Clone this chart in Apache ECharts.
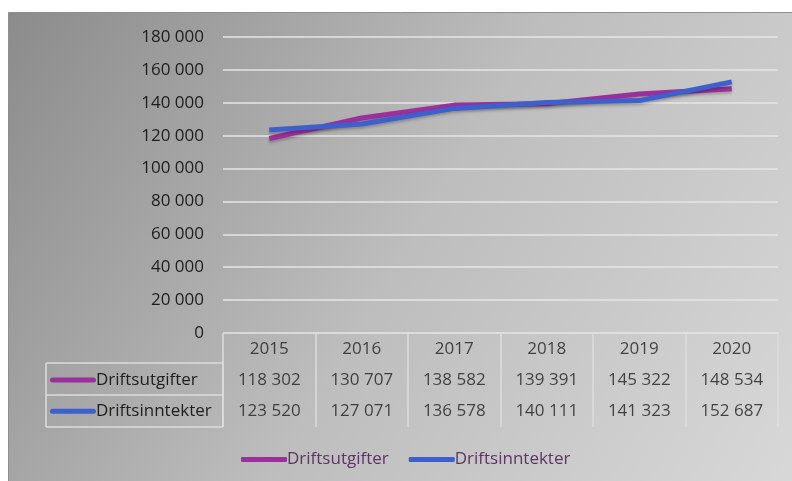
<!DOCTYPE html>
<html>
<head>
<meta charset="utf-8">
<script src="https://cdn.jsdelivr.net/npm/echarts@6/dist/echarts.min.js"></script>
<style>
html,body{margin:0;padding:0;background:#fff;}
#c{width:792px;height:481px;}
</style>
</head>
<body>
<div id="c"></div>
<script>
var years = ['2015','2016','2017','2018','2019','2020'];
var seriesNames = ['Driftsutgifter','Driftsinntekter'];
var driftsutgifter = [118302,130707,138582,139391,145322,148534];
var driftsinntekter = [123520,127071,136578,140111,141323,152687];
var yTicks = {min:0, max:180000, interval:20000};

var PURPLE = '#9b2f9c';
var BLUE = '#3d60cc';
var FONT = 'Open Sans';
var FS = 17;

function fmt(v){ return String(v).replace(/\B(?=(\d{3})+(?!\d))/g,' '); }

var tableData = [];
years.forEach(function(y,i){
  tableData.push([i,0,y]);
  tableData.push([i,1,fmt(driftsutgifter[i])]);
  tableData.push([i,2,fmt(driftsinntekter[i])]);
});

var chart = echarts.init(document.getElementById('c'), null, {renderer:'canvas'});
var gridLineColor = '#e6e6e6';
var tableLine = '#dcdcdc';

chart.setOption({
  animation:false,
  backgroundColor:'#ffffff',
  textStyle:{fontFamily:FONT},
  graphic:[{
    type:'rect', z:-10, silent:true,
    shape:{x:8.5,y:12.5,width:790,height:475},
    style:{
      fill:new echarts.graphic.LinearGradient(0,0,1,1,[
        {offset:0,color:'#8b8b8b'},
        {offset:0.5,color:'#bdbdbd'},
        {offset:1,color:'#d8d8d8'}
      ]),
      stroke:'#8f8f8f', lineWidth:1
    }
  }],
  grid:[
    {left:223,right:14,top:37,bottom:148},
    {left:223,right:14,top:333,bottom:54},
    {left:46,width:177,top:363,bottom:54}
  ],
  xAxis:[
    {gridIndex:0,type:'category',data:years,boundaryGap:true,
     axisLine:{show:false},axisTick:{show:false},axisLabel:{show:false},splitLine:{show:false}},
    {gridIndex:1,type:'category',data:years,boundaryGap:true,
     axisLine:{show:false},axisTick:{show:false},axisLabel:{show:false},
     splitLine:{show:true,lineStyle:{color:tableLine,width:1.5}}},
    {gridIndex:2,type:'category',data:[''],boundaryGap:true,
     axisLine:{show:false},axisTick:{show:false},axisLabel:{show:false},
     splitLine:{show:true,lineStyle:{color:tableLine,width:1.5}}}
  ],
  yAxis:[
    {gridIndex:0,type:'value',min:yTicks.min,max:yTicks.max,interval:yTicks.interval,
     axisLine:{show:false},axisTick:{show:false},
     axisLabel:{margin:19,color:'#1e1e1e',fontSize:FS,fontFamily:FONT,formatter:fmt},
     splitLine:{show:true,lineStyle:{color:gridLineColor,width:1.5}}},
    {gridIndex:1,type:'category',data:['',seriesNames[0],seriesNames[1]],inverse:true,boundaryGap:true,
     axisLine:{show:false},axisTick:{show:false},
     axisLabel:{margin:173,align:'left',color:'#1e1e1e',fontSize:FS,fontFamily:FONT,
       formatter:function(v,i){
         if(i===0) return '';
         return '{'+(i===1?'p':'b')+'|}{t|'+v+'}';
       },
       rich:{
         p:{width:46,height:5,backgroundColor:PURPLE,borderRadius:3},
         b:{width:46,height:5,backgroundColor:BLUE,borderRadius:3},
         t:{fontSize:FS,color:'#1e1e1e',fontFamily:FONT}
       }},
     splitLine:{show:false}},
    {gridIndex:2,type:'category',data:['a','b'],boundaryGap:true,
     axisLine:{show:false},axisTick:{show:false},axisLabel:{show:false},
     splitLine:{show:true,lineStyle:{color:tableLine,width:1.5}}}
  ],
  legend:{
    data:seriesNames,
    left:236, top:446,
    icon:'roundRect', itemWidth:46, itemHeight:5, itemGap:20,
    textStyle:{color:'#5e3464',fontSize:FS,fontFamily:FONT,padding:[0,0,0,-5]}
  },
  series:[
    {name:seriesNames[0],type:'line',xAxisIndex:0,yAxisIndex:0,data:driftsutgifter,
     symbol:'none',color:PURPLE,
     lineStyle:{width:5,color:PURPLE,shadowColor:'rgba(0,0,0,0.25)',shadowBlur:3,shadowOffsetY:2}},
    {name:seriesNames[1],type:'line',xAxisIndex:0,yAxisIndex:0,data:driftsinntekter,
     symbol:'none',color:BLUE,
     lineStyle:{width:5,color:BLUE,shadowColor:'rgba(0,0,0,0.25)',shadowBlur:3,shadowOffsetY:2}},
    {type:'scatter',xAxisIndex:1,yAxisIndex:1,data:tableData,symbolSize:0,silent:true,
     label:{show:true,position:'inside',color:'#1e1e1e',fontSize:FS,fontFamily:FONT,
       formatter:function(p){return p.value[2];}}}
  ]
});
</script>
</body>
</html>
